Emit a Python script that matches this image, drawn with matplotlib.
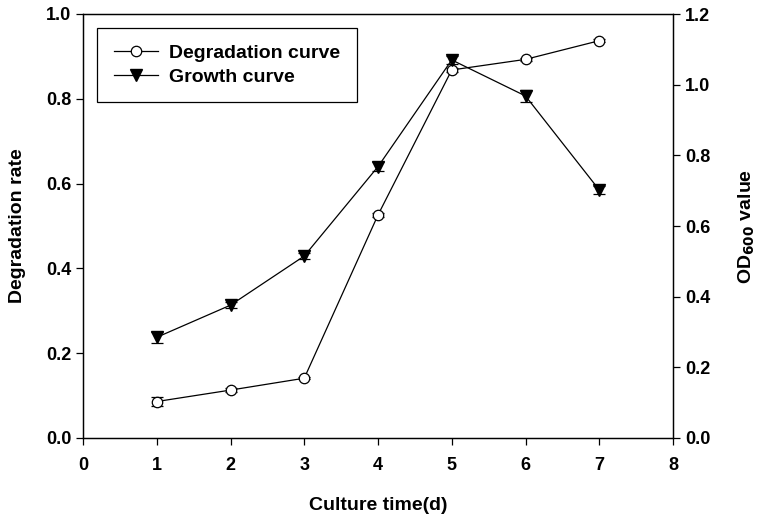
import matplotlib
matplotlib.use("Agg")
import matplotlib.pyplot as plt
from matplotlib.lines import Line2D

plt.rcParams['font.family'] = ['Liberation Sans', 'DejaVu Sans']
plt.rcParams['font.weight'] = 'bold'
plt.rcParams['mathtext.default'] = 'bf'

days = [1, 2, 3, 4, 5, 6, 7]
degradation = [0.086, 0.113, 0.141, 0.526, 0.868, 0.893, 0.937]
degradation_err = [0.010, 0.004, 0.003, 0.004, 0.004, 0.004, 0.003]
growth = [0.285, 0.376, 0.515, 0.768, 1.070, 0.968, 0.702]
growth_err = [0.015, 0.008, 0.008, 0.012, 0.012, 0.017, 0.012]

fig = plt.figure(figsize=(7.64, 5.21), dpi=100)
ax = fig.add_axes([83/764, 1-438/521, 590/764, 424/521])
ax2 = ax.twinx()

ax.errorbar(days, degradation, yerr=degradation_err, color='black', lw=0.9,
            marker='o', ms=7.5, mfc='white', mec='black', mew=0.9,
            capsize=4, elinewidth=0.9, capthick=0.9, zorder=3)
ax2.errorbar(days, growth, yerr=growth_err, color='black', lw=0.9,
             marker='v', ms=8, mfc='black', mec='black',
             capsize=4, elinewidth=0.9, capthick=0.9, zorder=3)

ax.set_xlim(0, 8)
ax.set_ylim(0, 1.0)
ax2.set_ylim(0, 1.2)
ax.set_xticks(range(0, 9))
ax.set_yticks([0.0, 0.2, 0.4, 0.6, 0.8, 1.0])
ax2.set_yticks([0.0, 0.2, 0.4, 0.6, 0.8, 1.0, 1.2])
ax.set_yticklabels(['0.0', '0.2', '0.4', '0.6', '0.8', '1.0'])
ax2.set_yticklabels(['0.0', '0.2', '0.4', '0.6', '0.8', '1.0', '1.2'])

for a in (ax, ax2):
    a.tick_params(direction='out', length=5, width=0.9, labelsize=13)
    for s in a.spines.values():
        s.set_linewidth(0.9)
ax.tick_params(axis='x', pad=9)

ax.set_xlabel('Culture time(d)', fontsize=14, fontweight='bold', labelpad=16)
ax.set_ylabel('Degradation rate', fontsize=14, fontweight='bold', labelpad=14)
ax2.set_ylabel('OD$_{600}$ value', fontsize=14, fontweight='bold', labelpad=19)

handles = [
    Line2D([], [], color='black', lw=0.9, marker='o', ms=7.5, mfc='white', mec='black', mew=0.9),
    Line2D([], [], color='black', lw=0.9, marker='v', ms=8, mfc='black', mec='black'),
]
labels = ['Degradation curve', 'Growth curve']
leg = ax2.legend(handles, labels, loc='upper left', fontsize=14,
                 frameon=True, fancybox=False, edgecolor='black', framealpha=1,
                 borderaxespad=0.72, borderpad=0.85, labelspacing=0.3,
                 handlelength=2.3, handletextpad=0.55, numpoints=1)
leg.get_frame().set_linewidth(0.9)

fig.savefig('out.png', dpi=100)
